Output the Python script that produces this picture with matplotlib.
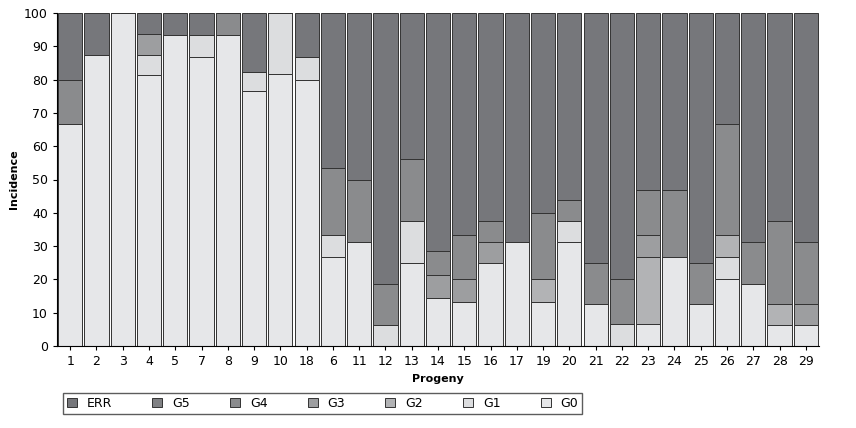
import matplotlib
matplotlib.use("Agg")
import matplotlib.pyplot as plt
import numpy as np

progeny = ["1","2","3","4","5","7","8","9","10","18","6","11","12","13","14","15","16","17","19","20","21","22","23","24","25","26","27","28","29"]
G0  = [66.7,87.5,100,81.25,93.3,86.7,93.3,76.5,81.8,80,26.7,31.25,0,25,14.3,13.3,25,31.25,13.3,31.25,12.5,0,6.7,26.7,12.5,20,18.75,6.25,6.25]
G1  = [0,0,0,6.25,0,6.7,0,5.9,18.2,6.7,6.7,0,6.25,12.5,0,0,0,0,0,6.25,0,6.7,0,0,0,6.7,0,0,0]
G2  = [0,0,0,0,0,0,0,0,0,0,0,0,0,0,0,0,0,0,6.7,0,0,0,20,0,0,6.7,0,6.25,0]
G3  = [0,0,0,6.25,0,0,0,0,0,0,0,0,0,0,7.1,6.7,6.25,0,0,0,0,0,6.7,0,0,0,0,0,6.25]
G4  = [13.3,0,0,0,0,0,6.7,0,0,0,20,18.75,12.5,18.75,7.1,13.3,6.25,0,20,6.25,12.5,13.3,13.3,20,12.5,33.3,12.5,25,18.75]
G5  = [0]*29
ERR = [20,12.5,0,6.25,6.7,6.7,0,17.6,0,13.3,46.7,50,81.25,43.75,71.4,66.7,62.5,68.75,60,56.25,75,80,53.3,53.3,75,33.3,68.75,62.5,68.75]

series = [("G0",G0,"#e6e7e9"),("G1",G1,"#dcdddf"),("G2",G2,"#b2b3b5"),
          ("G3",G3,"#9d9e a0".replace(" ","")),("G4",G4,"#8a8b8d"),("G5",G5,"#808184"),("ERR",ERR,"#76777b")]

fig = plt.figure(figsize=(8.56,4.28), dpi=100)
ax = fig.add_axes([57/856, 1-346/428, (819-57)/856, (346-13)/428])
x = np.arange(len(progeny))
bottom = np.zeros(len(progeny))
handles = {}
for name, vals, col in series:
    v = np.array(vals, float)
    b = ax.bar(x, v, bottom=bottom, width=0.92, color=col, edgecolor="#333333", linewidth=0.7)
    handles[name] = b
    bottom += v
ax.set_xlim(-0.5, len(progeny)-0.5)
ax.set_ylim(0, 100)
ax.set_yticks(range(0,101,10))
ax.set_xticks(x)
ax.set_xticklabels(progeny)
ax.tick_params(labelsize=9, length=3)
for s in ["top","right"]:
    ax.spines[s].set_visible(False)
ax.set_ylabel("Incidence", fontsize=8, fontweight="bold")
ax.set_xlabel("Progeny", fontsize=8, fontweight="bold", labelpad=4)
order = ["ERR","G5","G4","G3","G2","G1","G0"]
leg = fig.legend([handles[n] for n in order], order, ncol=7, loc="lower left",
                 bbox_to_anchor=(57/856, 8/428), fontsize=9, frameon=True, fancybox=False,
                 edgecolor="#333333", handlelength=0.8, handleheight=0.8, columnspacing=3.2,
                 borderpad=0.3)
fig.savefig("out.png", dpi=100)
